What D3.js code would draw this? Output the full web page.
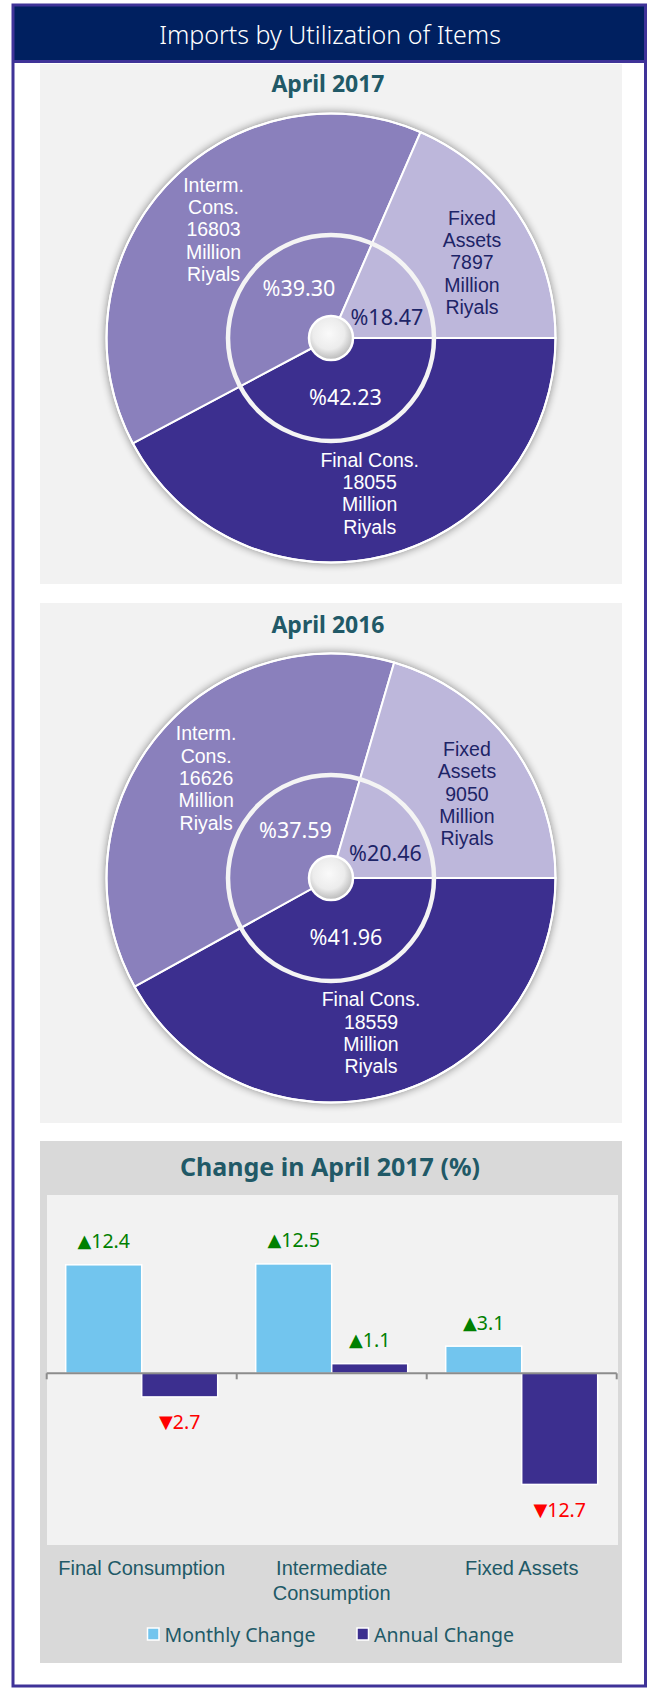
<!DOCTYPE html>
<html><head><meta charset="utf-8">
<script src="https://cdn.jsdelivr.net/npm/d3@7"></script>
<style>
html,body{margin:0;padding:0;background:#fff;}
svg{display:block;font-family:"Noto Sans",sans-serif;}
</style></head>
<body>
<script>
// ---------- DATA ----------
const mainTitle = "Imports by Utilization of Items";
const pieTitles = ["April 2017", "April 2016"];
const pieCategories = ["Final Cons.", "Interm. Cons.", "Fixed Assets"];
const pieNameLines = [["Final Cons."], ["Interm.", "Cons."], ["Fixed", "Assets"]];
const values2017 = [18055, 16803, 7897];
const values2016 = [18559, 16626, 9050];
const shares2017 = [42.23, 39.30, 18.47];
const shares2016 = [41.96, 37.59, 20.46];
const unitLines = ["Million", "Riyals"];

const barTitle = "Change in April 2017 (%)";
const barCategories = ["Final Consumption", "Intermediate Consumption", "Fixed Assets"];
const barCategoryLines = [["Final Consumption"], ["Intermediate", "Consumption"], ["Fixed Assets"]];
const seriesNames = ["Monthly Change", "Annual Change"];
const monthlyChange = [12.4, 12.5, 3.1];
const annualChange = [-2.7, 1.1, -12.7];

// ---------- STYLE ----------
const W = 649, H = 1689;
const sliceColors = ["#3c2f8f", "#8a80bc", "#bdb7db"];
const outerLabelColors = ["#ffffff", "#ffffff", "#1d2467"];
const innerLabelColors = ["#ffffff", "#ffffff", "#1d2467"];
const seriesColors = ["#72c5ee", "#3c2f8f"];
const teal = "#215967";
const navy = "#002060";
const purple = "#3f3398";
const labelFont = "'Liberation Sans', Arial, sans-serif";

const svg = d3.select("body").append("svg").attr("width", W).attr("height", H);
const defs = svg.append("defs");
defs.append("filter").attr("id", "shadow").attr("x", "-20%").attr("y", "-20%").attr("width", "140%").attr("height", "140%")
  .append("feGaussianBlur").attr("stdDeviation", 4);
const rg = defs.append("radialGradient").attr("id", "hole").attr("cx", "45%").attr("cy", "40%").attr("r", "60%");
rg.append("stop").attr("offset", "0%").attr("stop-color", "#fafafa");
rg.append("stop").attr("offset", "60%").attr("stop-color", "#ececec");
rg.append("stop").attr("offset", "100%").attr("stop-color", "#b9b9b9");

// header + frame
svg.append("rect").attr("x", 12).attr("y", 5).attr("width", 633).attr("height", 56).attr("fill", navy);
svg.append("line").attr("x1", 12).attr("x2", 646).attr("y1", 61.5).attr("y2", 61.5).attr("stroke", purple).attr("stroke-width", 3);
svg.append("rect").attr("x", 13).attr("y", 5).attr("width", 632.5).attr("height", 1681)
  .attr("fill", "none").attr("stroke", purple).attr("stroke-width", 3);
svg.append("text").attr("x", 330).attr("y", 34).attr("text-anchor", "middle").attr("dominant-baseline", "central")
  .attr("fill", "#fff").attr("font-size", 25).attr("font-weight", 300).text(mainTitle);

// ---------- PIES ----------
const pieData = [
  {title: pieTitles[0], values: values2017, shares: shares2017},
  {title: pieTitles[1], values: values2016, shares: shares2016}
];
const R = 224.5, ringR = 103, holeR = 22;
const outerNudge = [0, 0, 5];   // degrees
const innerNudge = [0, 15, 12];
const deg = Math.PI / 180;
const pie = d3.pie().sort(null).startAngle(Math.PI / 2).endAngle(Math.PI / 2 + 2 * Math.PI);
const arc = d3.arc().innerRadius(0).outerRadius(R);

pieData.forEach((pd, pi) => {
  const top = 64 + pi * 539;
  const cx = 331, cy = 338 + pi * 540;
  svg.append("rect").attr("x", 40).attr("y", top).attr("width", 582).attr("height", 520).attr("fill", "#f2f2f2");
  svg.append("text").attr("x", 328).attr("y", 83 + pi * 540.5).attr("text-anchor", "middle").attr("dominant-baseline", "central")
    .attr("fill", teal).attr("font-size", 23).attr("font-weight", "bold").text(pd.title);

  const g = svg.append("g").attr("transform", `translate(${cx},${cy})`);
  g.append("circle").attr("r", R + 1).attr("fill", "#000").attr("opacity", 0.45).attr("filter", "url(#shadow)");
  const arcs = pie(pd.values);
  g.selectAll("path.slice").data(arcs).join("path").attr("class", "slice")
    .attr("d", arc).attr("fill", (d, i) => sliceColors[i]).attr("stroke", "#fff").attr("stroke-width", 2);
  g.append("circle").attr("r", R).attr("fill", "none").attr("stroke", "#fff").attr("stroke-width", 2);
  g.append("circle").attr("r", ringR).attr("fill", "none").attr("stroke", "#f4f4f4").attr("stroke-width", 4.5);
  g.append("circle").attr("r", holeR).attr("fill", "url(#hole)").attr("stroke", "#fff").attr("stroke-width", 2.5);

  // outer labels
  arcs.forEach((a, i) => {
    const mid = (a.startAngle + a.endAngle) / 2 + outerNudge[i] * deg;
    const lr = 160;
    const x = lr * Math.sin(mid), y = -lr * Math.cos(mid);
    const lines = [...pieNameLines[i], String(pd.values[i]), ...unitLines];
    const lh = 22.3;
    lines.forEach((ln, k) => {
      g.append("text").attr("x", x).attr("y", y + (k - (lines.length - 1) / 2) * lh)
        .attr("text-anchor", "middle").attr("dominant-baseline", "central")
        .attr("fill", outerLabelColors[i]).attr("font-family", labelFont).attr("font-size", 19.5).text(ln);
    });
    // inner percent labels
    const mid2 = (a.startAngle + a.endAngle) / 2 + innerNudge[i] * deg;
    const ir = 60;
    g.append("text").attr("x", ir * Math.sin(mid2)).attr("y", -ir * Math.cos(mid2))
      .attr("text-anchor", "middle").attr("dominant-baseline", "central")
      .attr("fill", innerLabelColors[i]).attr("font-size", 21.5).text("%" + pd.shares[i].toFixed(2));
  });
});

// ---------- BAR CHART ----------
svg.append("rect").attr("x", 40).attr("y", 1141).attr("width", 582).attr("height", 522).attr("fill", "#d9d9d9");
svg.append("rect").attr("x", 47).attr("y", 1195).attr("width", 571).attr("height", 350).attr("fill", "#f2f2f2");
svg.append("text").attr("x", 330).attr("y", 1166).attr("text-anchor", "middle").attr("dominant-baseline", "central")
  .attr("fill", teal).attr("font-size", 25).attr("font-weight", "bold").text(barTitle);

const x0 = d3.scaleBand().domain(barCategories).range([46.7, 616.7]).padding(0);
const x1b = d3.scaleBand().domain(seriesNames).range([x0.bandwidth() * 0.1, x0.bandwidth() * 0.9]).padding(0);
const y = d3.scaleLinear().domain([-20, 20]).range([1548.3, 1198.3]);

const barRows = [];
barCategories.forEach((c, i) => {
  barRows.push({cat: c, s: seriesNames[0], v: monthlyChange[i], si: 0});
  barRows.push({cat: c, s: seriesNames[1], v: annualChange[i], si: 1});
});

svg.append("g").selectAll("rect").data(barRows).join("rect")
  .attr("x", d => x0(d.cat) + x1b(d.s))
  .attr("width", x1b.bandwidth())
  .attr("y", d => y(Math.max(0, d.v)))
  .attr("height", d => Math.abs(y(d.v) - y(0)))
  .attr("fill", d => seriesColors[d.si]).attr("stroke", "#fff").attr("stroke-width", 1.5);

// axis at zero
const axisG = svg.append("g").attr("transform", `translate(0,${y(0)})`)
  .call(d3.axisBottom(x0).tickSize(0).tickFormat(""));
axisG.select(".domain").remove();
axisG.append("line").attr("x1", 46.7).attr("x2", 616.7).attr("stroke", "#8c8c8c").attr("stroke-width", 2);
const bounds = [...barCategories.map(c => x0(c)), x0.range()[1]];
axisG.selectAll("line.tk").data(bounds).join("line").attr("class", "tk")
  .attr("x1", d => d).attr("x2", d => d).attr("y1", 0).attr("y2", 6).attr("stroke", "#8c8c8c").attr("stroke-width", 2);

// value labels
const vl = svg.append("g").selectAll("text").data(barRows).join("text")
  .attr("x", d => x0(d.cat) + x1b(d.s) + x1b.bandwidth() / 2)
  .attr("y", d => d.v >= 0 ? y(d.v) - 24.5 : y(d.v) + 24.5)
  .attr("text-anchor", "middle").attr("dominant-baseline", "central")
  .attr("font-size", 19.5)
  .attr("fill", d => d.v >= 0 ? "#008000" : "#ff0000");
vl.append("tspan").attr("font-family", "DejaVu Sans").attr("font-size", 18).text(d => d.v >= 0 ? "▲" : "▼");
vl.append("tspan").text(d => Math.abs(d.v).toFixed(1));

// category labels
barCategories.forEach((c, i) => {
  barCategoryLines[i].forEach((ln, k) => {
    svg.append("text").attr("x", x0(c) + x0.bandwidth() / 2).attr("y", 1568 + k * 25)
      .attr("text-anchor", "middle").attr("dominant-baseline", "central")
      .attr("fill", teal).attr("font-family", labelFont).attr("font-size", 20).text(ln);
  });
});

// legend
const legX = [147.5, 357];
seriesNames.forEach((s, i) => {
  svg.append("rect").attr("x", legX[i]).attr("y", 1628).attr("width", 11.5).attr("height", 12)
    .attr("fill", seriesColors[i]).attr("stroke", "#fff").attr("stroke-width", 1.5);
  svg.append("text").attr("x", legX[i] + 17).attr("y", 1634).attr("dominant-baseline", "central")
    .attr("fill", teal).attr("font-size", 19.5).text(s);
});
</script>
</body></html>
